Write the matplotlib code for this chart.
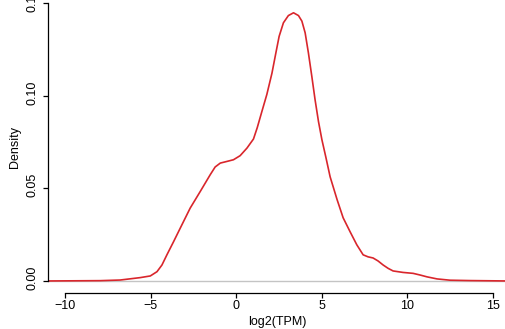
import numpy as np
import matplotlib
matplotlib.use("Agg")
import matplotlib.pyplot as plt
from matplotlib.transforms import ScaledTranslation

plt.rcParams['font.family'] = ['Liberation Sans', 'DejaVu Sans']

# density curve (log2 TPM vs density)
log2_tpm = [-10.98, -9.99, -7.94, -6.78, -5.61, -5.02, -4.63, -4.34, -4.05, -3.66,
            -3.27, -2.69, -2.10, -1.52, -1.23, -0.93, -0.54, -0.16, 0.23, 0.63,
            1.01, 1.23, 1.50, 1.79, 2.09, 2.32, 2.51, 2.76, 3.05, 3.35,
            3.64, 3.84, 4.03, 4.22, 4.42, 4.61, 4.81, 5.01, 5.24, 5.49,
            5.90, 6.25, 6.66, 7.05, 7.42, 7.71, 8.00, 8.29, 8.59, 8.88,
            9.17, 9.75, 10.34, 10.75, 11.16, 11.74, 12.50, 13.67, 15.77]
density = [0.0, 0.00005, 0.00016, 0.0005, 0.0018, 0.0027, 0.0050, 0.0086, 0.0141, 0.0212,
           0.0285, 0.0393, 0.0483, 0.0573, 0.0615, 0.0636, 0.0645, 0.0654, 0.0676, 0.0717,
           0.0766, 0.0827, 0.0914, 0.1006, 0.1121, 0.1231, 0.1320, 0.1393, 0.1432, 0.1447,
           0.1432, 0.1402, 0.1339, 0.1231, 0.1104, 0.0978, 0.0860, 0.0762, 0.0668, 0.0562,
           0.0438, 0.0341, 0.0265, 0.0195, 0.0141, 0.0130, 0.0124, 0.0108, 0.0086, 0.0068,
           0.0054, 0.0046, 0.0041, 0.0032, 0.0022, 0.0011, 0.0004, 0.0002, 0.0]

xticks = [-10, -5, 0, 5, 10, 15]
xtick_labels = ["\u221210", "\u22125", "0", "5", "10", "15"]
yticks = [0.00, 0.05, 0.10, 0.15]
ytick_labels = ["0.00", "0.05", "0.10", "0.15"]

W, H = 506, 329
fig = plt.figure(figsize=(W / 100, H / 100), dpi=100)
ax = fig.add_axes([48 / W, (H - 293) / H, (W - 48) / W, 293 / H])

ax.axhline(0, color="#c4c4c4", lw=1.0, zorder=1)
ax.plot(log2_tpm, density, color="#d9262c", lw=1.2, zorder=2,
        solid_joinstyle="round", solid_capstyle="round")

ax.set_xlim(-11.0, 15.77)
ax.set_ylim(-0.0065, 0.1516)

for s in ["top", "right"]:
    ax.spines[s].set_visible(False)
ax.spines["left"].set_bounds(0, 0.15)
ax.spines["bottom"].set_bounds(-10, 15)
ax.spines["left"].set_linewidth(0.9)
ax.spines["bottom"].set_linewidth(0.9)

ax.set_xticks(xticks)
ax.set_xticklabels(xtick_labels)
ax.set_yticks(yticks)
ax.set_yticklabels(ytick_labels, rotation=90, va="center")
ax.tick_params(axis="both", length=3.5, width=0.9, labelsize=9)
ax.tick_params(axis="x", pad=1.5)
ax.tick_params(axis="y", pad=3.5)

# R puts rotated labels a touch above the tick
shift = ScaledTranslation(0, 3 / 100, fig.dpi_scale_trans)
for lab in ax.get_yticklabels():
    lab.set_transform(lab.get_transform() + shift)

ax.set_xlabel("log2(TPM)", fontsize=9, labelpad=3)
ax.set_ylabel("Density", fontsize=9, labelpad=4)

fig.savefig("out.png", dpi=100)
